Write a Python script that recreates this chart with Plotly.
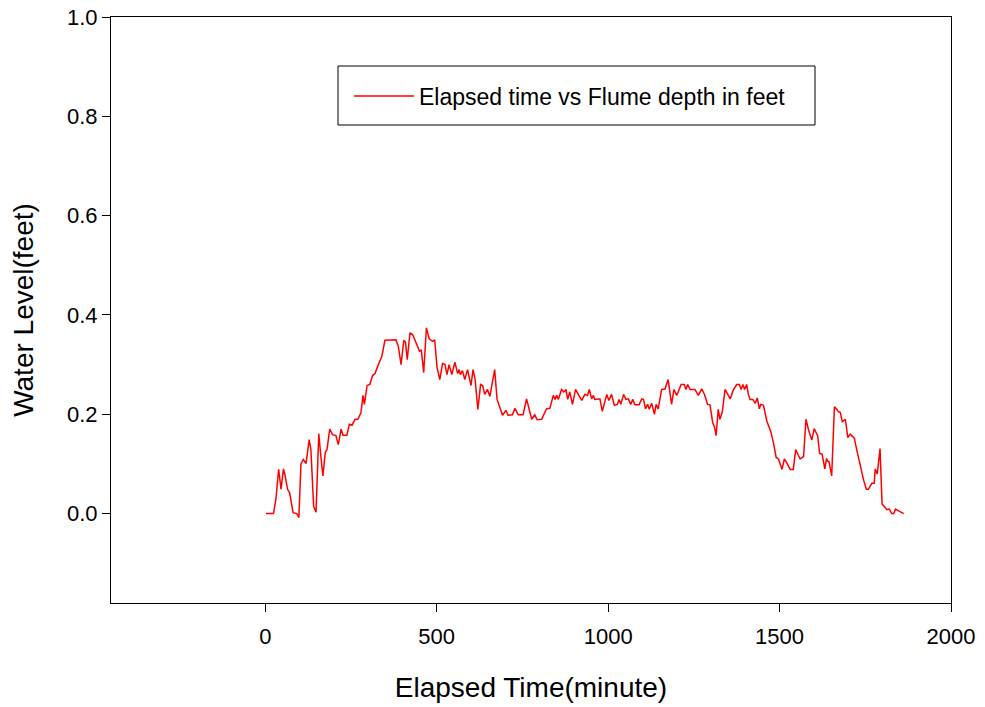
import plotly.graph_objects as go

elapsed_minutes = [2, 24, 31, 39, 46, 53, 58, 65, 71, 76, 81, 92, 98, 104, 111, 119, 128, 133, 141, 148,
                   156, 162, 168, 175, 180, 188, 196, 206, 213, 221, 227, 238, 245, 253, 262, 270, 279, 285,
                   289, 297, 305, 313, 320, 328, 340, 349, 381, 388, 396, 404, 409, 414, 422, 430, 440, 450,
                   455, 462, 470, 478, 488, 494, 501, 509, 517, 524, 530, 536, 544, 553, 561, 565, 569, 575,
                   582, 590, 600, 606, 612, 620, 628, 634, 640, 648, 655, 662, 669, 676, 684, 692, 702, 708,
                   721, 728, 738, 752, 762, 770, 777, 786, 793, 806, 813, 820, 830, 840, 845, 850, 855, 864,
                   871, 877, 882, 888, 896, 905, 913, 923, 932, 940, 945, 952, 957, 961, 971, 976, 983, 989,
                   996, 1002, 1010, 1018, 1027, 1032, 1037, 1045, 1052, 1059, 1066, 1072, 1078, 1090, 1098,
                   1103, 1109, 1115, 1120, 1127, 1135, 1140, 1146, 1156, 1166, 1175, 1185, 1192, 1200, 1213,
                   1222, 1227, 1232, 1239, 1253, 1263, 1273, 1281, 1290, 1297, 1305, 1310, 1315, 1321, 1326,
                   1333, 1341, 1349, 1356, 1365, 1375, 1383, 1388, 1393, 1398, 1404, 1409, 1414, 1422, 1429,
                   1435, 1441, 1445, 1453, 1463, 1474, 1482, 1490, 1497, 1507, 1514, 1521, 1531, 1540, 1547,
                   1555, 1560, 1570, 1577, 1584, 1594, 1601, 1611, 1617, 1624, 1632, 1637, 1641, 1644, 1652,
                   1660, 1667, 1672, 1677, 1683, 1692, 1699, 1706, 1718, 1725, 1735, 1745, 1753, 1759, 1769,
                   1776, 1779, 1785, 1793, 1799, 1805, 1813, 1820, 1827, 1833, 1838, 1862]

flume_depth_ft = [0.0, 0.0, 0.029, 0.089, 0.049, 0.09, 0.076, 0.049, 0.042, 0.023, 0.002, 0.0, -0.008,
                  0.10, 0.109, 0.101, 0.149, 0.129, 0.015, 0.003, 0.161, 0.116, 0.076, 0.123, 0.129, 0.17,
                  0.159, 0.157, 0.139, 0.17, 0.158, 0.158, 0.18, 0.178, 0.19, 0.19, 0.203, 0.238, 0.22,
                  0.258, 0.26, 0.278, 0.282, 0.297, 0.317, 0.349, 0.35, 0.337, 0.30, 0.349, 0.345, 0.31,
                  0.364, 0.36, 0.344, 0.327, 0.33, 0.284, 0.374, 0.352, 0.347, 0.35, 0.294, 0.27, 0.302,
                  0.30, 0.28, 0.30, 0.28, 0.305, 0.282, 0.29, 0.28, 0.288, 0.27, 0.29, 0.258, 0.29, 0.27,
                  0.21, 0.26, 0.258, 0.24, 0.25, 0.236, 0.26, 0.29, 0.23, 0.213, 0.198, 0.208, 0.198,
                  0.199, 0.212, 0.199, 0.199, 0.231, 0.21, 0.19, 0.199, 0.189, 0.19, 0.199, 0.211, 0.212,
                  0.238, 0.23, 0.238, 0.23, 0.25, 0.245, 0.25, 0.23, 0.245, 0.22, 0.25, 0.24, 0.228, 0.24,
                  0.238, 0.25, 0.231, 0.238, 0.23, 0.231, 0.231, 0.206, 0.22, 0.24, 0.228, 0.24, 0.218,
                  0.22, 0.23, 0.22, 0.24, 0.23, 0.231, 0.22, 0.23, 0.219, 0.219, 0.231, 0.23, 0.211, 0.22,
                  0.21, 0.222, 0.2, 0.22, 0.211, 0.25, 0.251, 0.27, 0.22, 0.25, 0.238, 0.26, 0.26, 0.25,
                  0.26, 0.25, 0.25, 0.238, 0.251, 0.24, 0.22, 0.219, 0.183, 0.175, 0.157, 0.21, 0.19,
                  0.205, 0.25, 0.24, 0.231, 0.249, 0.26, 0.26, 0.25, 0.26, 0.25, 0.26, 0.24, 0.23, 0.23,
                  0.222, 0.233, 0.211, 0.22, 0.218, 0.186, 0.166, 0.143, 0.113, 0.11, 0.089, 0.11, 0.102,
                  0.089, 0.089, 0.129, 0.117, 0.11, 0.115, 0.19, 0.17, 0.148, 0.171, 0.157, 0.121, 0.12,
                  0.09, 0.111, 0.105, 0.105, 0.076, 0.215, 0.21, 0.205, 0.204, 0.185, 0.19, 0.153, 0.16,
                  0.152, 0.129, 0.096, 0.068, 0.049, 0.049, 0.061, 0.061, 0.09, 0.08, 0.131, 0.019, 0.015,
                  0.008, 0.009, 0.0, 0.0, 0.009, 0.0, 0.0]

x_ticks = [0, 500, 1000, 1500, 2000]
y_ticks = [0.0, 0.2, 0.4, 0.6, 0.8, 1.0]

FONT = "Liberation Sans, Arial, sans-serif"

fig = go.Figure()
fig.add_trace(go.Scatter(
    x=elapsed_minutes, y=flume_depth_ft, mode="lines",
    name="Elapsed time vs Flume depth in feet",
    line=dict(color="#ff0000", width=1.5),
))

# page has an 8px body offset; plot area on page: x 111..951, y 17..603
OFF = 8
W, H = 985 - OFF, 707 - OFF
L, T = 111 - OFF, 17 - OFF
R = W - (951 - OFF)
B = H - (603 - OFF)
pw, ph = 840, 586


def px_x(p):
    return (p - 111) / pw


def px_y(p):
    return (603 - p) / ph


fig.add_shape(type="rect", xref="paper", yref="paper",
              x0=px_x(338), x1=px_x(815), y0=px_y(125), y1=px_y(66),
              line=dict(color="black", width=1), fillcolor="rgba(0,0,0,0)")

fig.update_layout(
    width=W, height=H,
    margin=dict(l=L, r=R, t=T, b=B, autoexpand=False),
    paper_bgcolor="white", plot_bgcolor="white",
    font=dict(family=FONT, size=22, color="black"),
    showlegend=True,
    legend=dict(x=px_x(349), y=px_y(96), xanchor="left", yanchor="middle",
                bgcolor="rgba(0,0,0,0)", borderwidth=0,
                font=dict(family=FONT, size=23, color="black"),
                itemwidth=60),
    xaxis=dict(range=[-450, 2000], tickvals=x_ticks, ticktext=[str(v) for v in x_ticks],
               ticks="outside", ticklen=8, tickwidth=1, tickcolor="black",
               showline=True, linecolor="black", linewidth=1, mirror=True,
               showgrid=False, zeroline=False, ticklabelstandoff=6, automargin=False,
               tickfont=dict(family=FONT, size=22),
               title=dict(text="Elapsed Time(minute)", font=dict(family=FONT, size=28), standoff=28)),
    yaxis=dict(range=[-0.18, 1.0], tickvals=y_ticks, ticktext=[f"{v:.1f}" for v in y_ticks],
               ticks="outside", ticklen=8, tickwidth=1, tickcolor="black",
               showline=True, linecolor="black", linewidth=1, mirror=True,
               showgrid=False, zeroline=False, ticklabeloverflow="allow", automargin=False,
               tickfont=dict(family=FONT, size=22),
               title=dict(text="Water Level(feet)", font=dict(family=FONT, size=28), standoff=25)),
)

fig.write_html("out.html")
